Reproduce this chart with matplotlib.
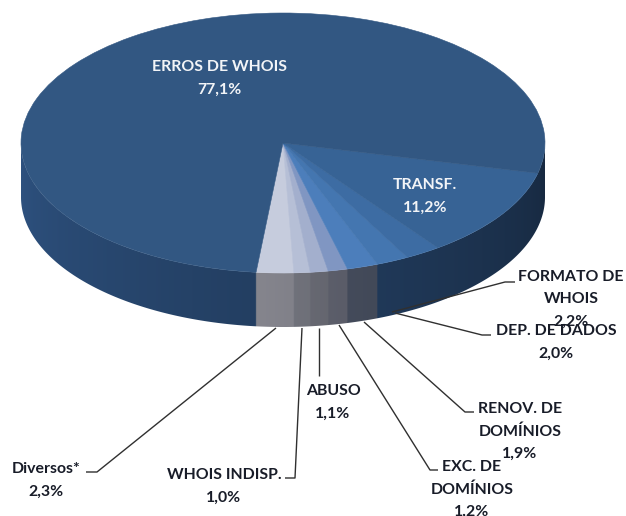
import numpy as np
import matplotlib
matplotlib.use("Agg")
import matplotlib.pyplot as plt
from matplotlib.colors import to_rgb
from matplotlib.patches import Polygon

# slice order starts at the front of the pie and runs counterclockwise
labels = ["Diversos*", "WHOIS INDISP.", "ABUSO", "EXC. DE\nDOMÍNIOS", "RENOV. DE\nDOMÍNIOS",
          "DEP. DE DADOS", "FORMATO DE\nWHOIS", "TRANSF.", "ERROS DE WHOIS"]
values = [2.3, 1.0, 1.1, 1.2, 1.9, 2.0, 2.2, 11.2, 77.1]
top_colors = ["#c6ccdd", "#b6bfd6", "#a3afcd", "#8096c2", "#4c7ebb", "#4476b0",
              "#3d6ca3", "#376395", "#325782"]
side_colors = ["#aeaeb9", "#9799a5", "#8c8e9b", "#7f8293", "#606a80", "#2e5280",
               "#2e5280", "#2e5280", "#2e5280"]

# pixel positions of the labels and leader lines
label_pos = [(46, 469), (224, 475), (333, 391), (472, 467), (520, 409), (556, 331), (571, 277)]
leaders = [[(276, 328), (97, 472), (86, 472)],
           [(302, 328), (295, 478), (285, 478)],
           [(319, 328), (319, 376)],
           [(339, 325), (430, 470), (438, 470)],
           [(364, 322), (465, 412), (474, 412)],
           [(395, 313), (482, 335), (491, 335)],
           [(392, 312), (505, 282), (515, 282)]]
inner_pos = {7: (425, 185), 8: (219, 67)}

cx, cy, rx, ry, depth = 283, 143, 262, 130, 54
start = 264.1
line_h = 22.5


def to_data(x, y):
    return (x - cx) / rx, (cy - y) / ry


def pct(v):
    return f"{v:.1f}%".replace(".", ",")


plt.rcParams["font.family"] = ["Lato", "DejaVu Sans"]
plt.rcParams["font.weight"] = "bold"

fig = plt.figure(figsize=(6.26, 5.16), dpi=100)
ax = fig.add_axes([0, 0, 1, 1])

# side wall: one column per x, coloured by the slice at that angle and darker towards the right
edges = start + np.cumsum([0] + values) * 3.6
d = depth / ry
col_x = np.linspace(-1, 1, 1400)
col_angle = 360 - np.degrees(np.arccos(col_x))
col_angle[col_angle < start] += 360
col_slice = np.clip(np.searchsorted(edges, col_angle, side="right") - 1, 0, len(values) - 1)
base = np.array([to_rgb(c) for c in side_colors])
col_angle_plain = 360 - np.degrees(np.arccos(col_x))
shade = 1 - 0.0028 * (col_angle_plain - 180)
wall = (base[col_slice] * shade[:, None])[None, :, :]

t = np.radians(np.linspace(180, 360, 400))
outline = np.c_[np.r_[np.cos(t), np.cos(t)[::-1]], np.r_[np.sin(t), np.sin(t)[::-1] - d]]
img = ax.imshow(wall, extent=(-1, 1, -1 - d, 0), aspect="auto", zorder=1, interpolation="bilinear")
clip = Polygon(outline, closed=True, transform=ax.transData, fill=False, lw=0)
ax.add_patch(clip)
img.set_clip_path(clip)

wedges, _ = ax.pie(values, startangle=start, counterclock=True, colors=top_colors,
                   radius=1, wedgeprops={"zorder": 2})
for w in wedges:
    w.set_edgecolor(w.get_facecolor())
    w.set_linewidth(0.4)

ax.set_aspect("auto")
ax.set_xlim(to_data(0, 0)[0], to_data(626, 0)[0])
ax.set_ylim(to_data(0, 516)[1], to_data(0, 0)[1])
ax.set_axis_off()

for path in leaders:
    pts = np.array([to_data(x, y) for x, y in path])
    ax.plot(pts[:, 0], pts[:, 1], color="#303030", lw=1.0, zorder=3, solid_capstyle="butt")


def put_label(i, color):
    x, y = inner_pos[i] if i in inner_pos else label_pos[i]
    lines = labels[i].split("\n") + [pct(values[i])]
    for k, line in enumerate(lines):
        tx, ty = to_data(x, y + k * line_h)
        ax.text(tx, ty, line, color=color, fontsize=11.4, ha="center", va="center", zorder=4,
                clip_on=True)


for i in range(len(values)):
    put_label(i, "#f2f4f7" if i in inner_pos else "#181c28")

fig.savefig("out.png", dpi=100)
